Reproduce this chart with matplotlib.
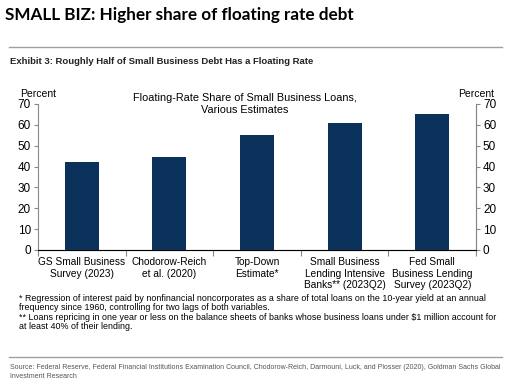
import matplotlib
matplotlib.use('Agg')
import matplotlib.pyplot as plt
import numpy as np

categorias = ['GS Small Business\nSurvey (2023)', 'Chodorow-Reich\net al. (2020)',
              'Top-Down\nEstimate*', 'Small Business\nLending Intensive\nBanks** (2023Q2)',
              'Fed Small\nBusiness Lending\nSurvey (2023Q2)']
valores = [42, 44.5, 55, 61, 65]
y_ticks = [0, 10, 20, 30, 40, 50, 60, 70]

cor = '#0a3159'
plt.rcParams['font.family'] = ['Liberation Sans', 'DejaVu Sans']

fig = plt.figure(figsize=(5.12, 3.85), dpi=100)
W, H = 512, 385

def fx(px):
    return px / W

def fy(py):
    return 1 - py / H

fig.text(fx(5), fy(15), 'SMALL BIZ: Higher share of floating rate debt', fontsize=12.3,
         fontweight='bold', family=['Lato', 'DejaVu Sans'], va='center', ha='left')
fig.add_artist(plt.Line2D([fx(9), fx(502)], [fy(47), fy(47)], color='#a0a0a0', lw=1))
fig.text(fx(10), fy(61), 'Exhibit 3: Roughly Half of Small Business Debt Has a Floating Rate',
         fontsize=6.8, fontweight='bold', va='center', ha='left', color='#222222')

ax = fig.add_axes([fx(38), fy(250), fx(476) - fx(38), fy(104) - fy(250)])
x = np.arange(len(valores))
ax.bar(x, valores, width=0.39, color=cor)
ax.set_xlim(-0.5, len(valores) - 0.5)
ax.set_ylim(0, 70)
ax.set_yticks(y_ticks)
ax.tick_params(axis='y', labelsize=8.5, length=3, color='#888888', pad=2)
ax.set_xticks(np.arange(-0.5, len(valores), 1))
ax.set_xticklabels([])
ax.set_xticks(x, minor=True)
ax.set_xticklabels(categorias, minor=True, fontsize=7.3, linespacing=1.2)
ax.tick_params(axis='x', which='minor', length=0, pad=5)
ax.tick_params(axis='x', which='major', length=4, color='#888888')
for s in ['top']:
    ax.spines[s].set_visible(False)
for s in ['left', 'bottom', 'right']:
    ax.spines[s].set_color('#888888')

ax2 = ax.twinx()
ax2.set_ylim(0, 70)
ax2.set_yticks(y_ticks)
ax2.tick_params(axis='y', labelsize=8.5, length=3, color='#888888', pad=2)
ax2.spines['top'].set_visible(False)
ax2.spines['right'].set_color('#888888')
ax2.spines['left'].set_visible(False)

fig.text(fx(20), fy(94), 'Percent', fontsize=7.5, va='center', ha='left')
fig.text(fx(494), fy(94), 'Percent', fontsize=7.5, va='center', ha='right')
fig.text(fx(245), fy(104), 'Floating-Rate Share of Small Business Loans,\nVarious Estimates',
         fontsize=7.8, va='center', ha='center', linespacing=1.3)

notas = ('* Regression of interest paid by nonfinancial noncorporates as a share of total loans on the 10-year yield at an annual\n'
         'frequency since 1960, controlling for two lags of both variables.\n'
         '** Loans repricing in one year or less on the balance sheets of banks whose business loans under $1 million account for\n'
         'at least 40% of their lending.')
fig.text(fx(19), fy(312.5), notas, fontsize=6.4, va='center', ha='left', linespacing=1.07)

fig.add_artist(plt.Line2D([fx(9), fx(502)], [fy(357), fy(357)], color='#a0a0a0', lw=1))
fonte = ('Source: Federal Reserve, Federal Financial Institutions Examination Council, Chodorow-Reich, Darmouni, Luck, and Plosser (2020), Goldman Sachs Global\n'
         'Investment Research')
fig.text(fx(10), fy(372), fonte, fontsize=5.0, va='center', ha='left', color='#555555',
         linespacing=1.45)

fig.savefig('out.png', dpi=100)
